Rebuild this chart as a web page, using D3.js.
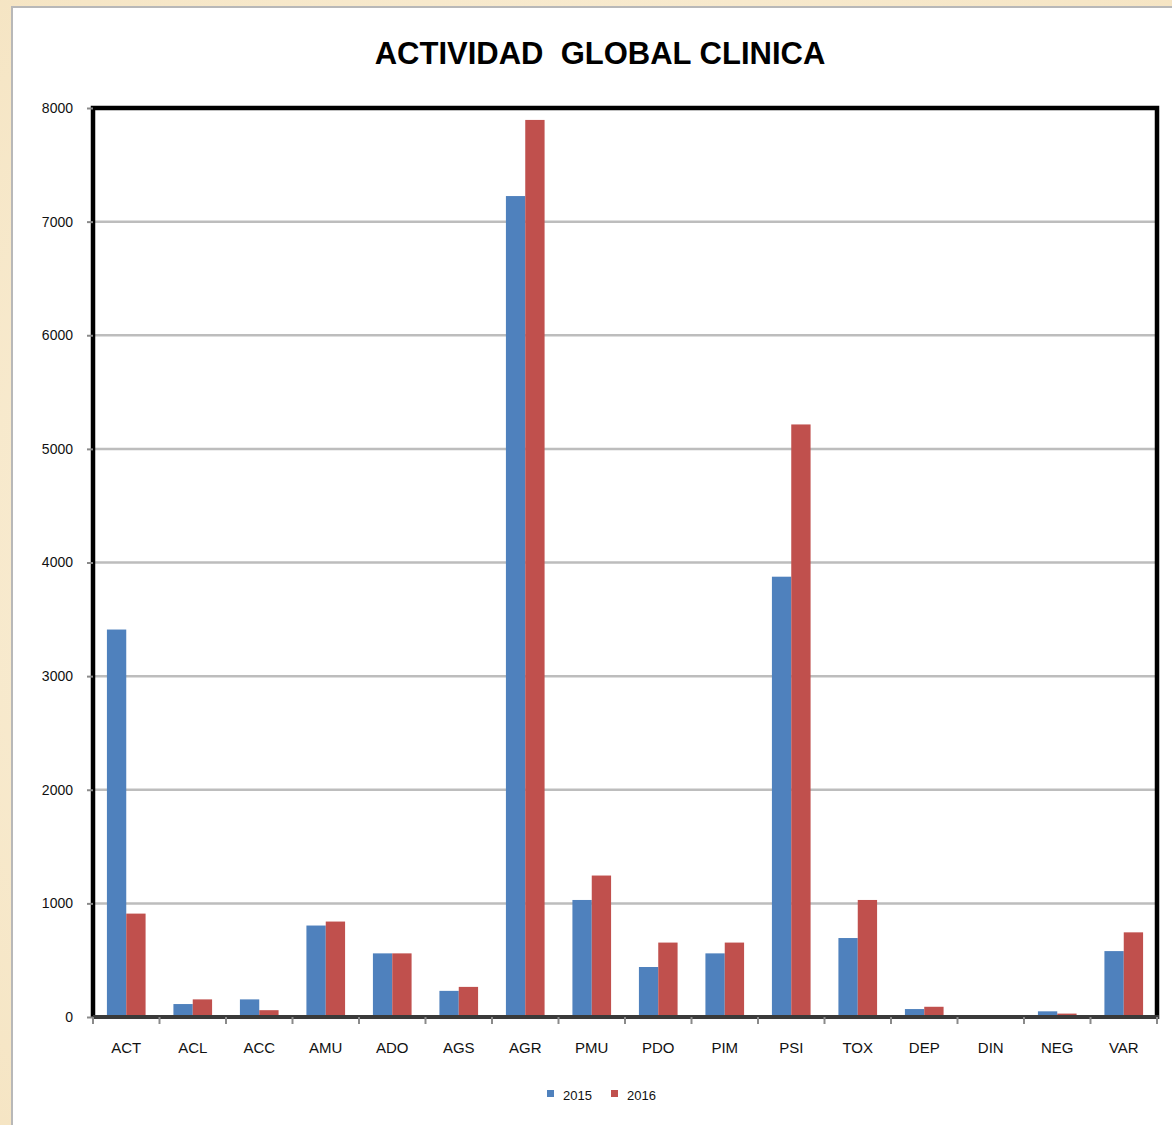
<!DOCTYPE html>
<html><head><meta charset="utf-8">
<script src="https://cdn.jsdelivr.net/npm/d3@7"></script>
<style>
html,body{margin:0;padding:0;}
body{width:1172px;height:1125px;overflow:hidden;background:#f6e8cc;}
</style></head>
<body>
<svg id="chart" width="1172" height="1125"></svg>
<script>
const categories = ["ACT","ACL","ACC","AMU","ADO","AGS","AGR","PMU","PDO","PIM","PSI","TOX","DEP","DIN","NEG","VAR"];
const seriesNames = ["2015","2016"];
const values2015 = [3410,114,155,805,560,230,7225,1030,440,560,3875,695,70,5,50,580];
const values2016 = [910,155,60,840,560,265,7895,1245,655,655,5215,1030,90,10,30,745];
const yTicks = [0,1000,2000,3000,4000,5000,6000,7000,8000];
const colors = ["#4F81BD","#C0504D"];

const svg = d3.select("#chart");
const defs = svg.append("defs");
const grad = defs.append("radialGradient").attr("id","parch").attr("cx","50%").attr("cy","50%").attr("r","75%");
grad.append("stop").attr("offset","0%").attr("stop-color","#fcf4e2");
grad.append("stop").attr("offset","100%").attr("stop-color","#f5e4c2");
svg.append("rect").attr("x",0).attr("y",0).attr("width",1172).attr("height",1125).attr("fill","url(#parch)");

// white panel
svg.append("rect").attr("x",12).attr("y",7).attr("width",1175).attr("height",1130)
  .attr("fill","#ffffff").attr("stroke","#b8b8b8").attr("stroke-width",2);

const m = {left:93, top:108, right:1157, bottom:1017};
const x0 = d3.scaleBand().domain(categories).range([m.left, m.right]).paddingInner(0).paddingOuter(0);
const x1 = d3.scaleBand().domain(seriesNames).range([0, x0.bandwidth()]).paddingInner(0).paddingOuter(0.72);
const y = d3.scaleLinear().domain([0,8000]).range([m.bottom, m.top]);

// gridlines
svg.append("g").selectAll("line").data(yTicks.filter(d=>d>0)).join("line")
  .attr("x1",m.left).attr("x2",m.right).attr("y1",d=>y(d)).attr("y2",d=>y(d))
  .attr("stroke","#bdbdbd").attr("stroke-width",2.5);

// bars
const data = categories.map((c,i)=>({cat:c, vals:[values2015[i], values2016[i]]}));
const groups = svg.append("g").selectAll("g").data(data).join("g")
  .attr("transform", d=>`translate(${x0(d.cat)},0)`);
groups.selectAll("rect").data(d=>d.vals.map((v,j)=>({s:seriesNames[j], v, j}))).join("rect")
  .attr("x", d=>x1(d.s)).attr("width", x1.bandwidth())
  .attr("y", d=>y(d.v)).attr("height", d=>m.bottom - y(d.v))
  .attr("fill", d=>colors[d.j]);

// frame: top, left, right thick black
svg.append("path")
  .attr("d", `M${m.left},${m.bottom} L${m.left},${m.top} L${m.right},${m.top} L${m.right},${m.bottom+2}`)
  .attr("fill","none").attr("stroke","#000").attr("stroke-width",4.5);

// x axis
const xAxis = d3.axisBottom(x0).tickSize(0).tickPadding(25);
const gx = svg.append("g").attr("transform",`translate(0,${m.bottom})`).call(xAxis);
gx.select(".domain").remove();
gx.selectAll("text").attr("font-family","'Liberation Sans', Arial, sans-serif").attr("font-size",15).attr("fill","#111");
svg.append("line").attr("x1",m.left).attr("x2",m.right+2).attr("y1",m.bottom).attr("y2",m.bottom)
  .attr("stroke","#3a3a3a").attr("stroke-width",4);
// category boundary tick marks
const bounds = d3.range(categories.length+1).map(i=>m.left + i*x0.step());
svg.append("g").selectAll("line").data(bounds).join("line")
  .attr("x1",d=>d).attr("x2",d=>d).attr("y1",m.bottom).attr("y2",m.bottom+7)
  .attr("stroke","#8a8a8a").attr("stroke-width",2);

// y axis
const yAxis = d3.axisLeft(y).tickValues(yTicks).tickSize(6).tickPadding(14).tickFormat(d3.format("d"));
const gy = svg.append("g").attr("transform",`translate(${m.left},0)`).call(yAxis);
gy.select(".domain").remove();
gy.selectAll(".tick line").attr("stroke","#8a8a8a").attr("stroke-width",2);
gy.selectAll("text").attr("font-family","'Liberation Sans', Arial, sans-serif").attr("font-size",14).attr("fill","#111");

// title
svg.append("text").attr("x",600).attr("y",64).attr("text-anchor","middle")
  .attr("font-family","'Liberation Sans', Arial, sans-serif").attr("font-weight","bold").attr("font-size",31)
  .attr("fill","#000").style("white-space","pre").text("ACTIVIDAD  GLOBAL CLINICA");

// legend
const legend = svg.append("g");
const legX = [547, 611];
seriesNames.forEach((s,i)=>{
  legend.append("rect").attr("x",legX[i]).attr("y",1090).attr("width",7).attr("height",7).attr("fill",colors[i]);
  legend.append("text").attr("x",legX[i]+16).attr("y",1100)
    .attr("font-family","'Liberation Sans', Arial, sans-serif").attr("font-size",13).attr("fill","#111").text(s);
});
</script>
</body></html>
